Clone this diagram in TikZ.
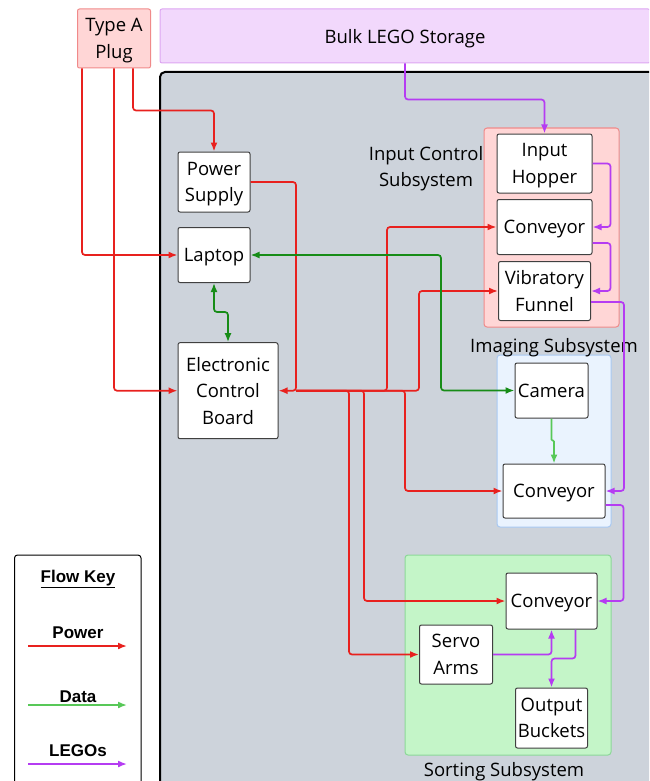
\documentclass[tikz,border=0pt]{standalone}
\usepackage{fontspec}
\setmainfont{Open Sans}
\newfontfamily\keyfont{Liberation Sans}
\usepackage{tikz}
\usetikzlibrary{positioning, arrows.meta, calc}

\definecolor{powred}{HTML}{E8211E}
\definecolor{datgreen}{HTML}{178C17}
\definecolor{datlight}{HTML}{58C858}
\definecolor{legopurple}{HTML}{B53CF2}
\definecolor{plugfill}{HTML}{FFD6D6}
\definecolor{plugline}{HTML}{F08A8A}
\definecolor{bulkfill}{HTML}{F2D8FC}
\definecolor{bulkline}{HTML}{DDA6F2}
\definecolor{casefill}{HTML}{CDD3DB}
\definecolor{imgfill}{HTML}{EAF3FE}
\definecolor{imgline}{HTML}{A8C8F2}
\definecolor{sortfill}{HTML}{C4F5C8}
\definecolor{sortline}{HTML}{8CD898}

\begin{document}
\begin{tikzpicture}[x=1pt, y=-1pt, line width=1.7pt, >={Latex[length=9pt,width=7pt]}]
				\tikzstyle{block}=[draw=black!75, line width=1pt, fill=white, rounded corners=2pt, align=center, inner sep=1pt, text depth=-6pt, font=\fontsize{18.5}{26.5}\selectfont]
				\tikzstyle{grouplabel}=[align=center, font=\fontsize{18.5}{26}\selectfont]
				\tikzstyle{keytext}=[font=\keyfont\bfseries\fontsize{17}{20}\selectfont]
				\tikzstyle{area}=[line width=1pt, rounded corners=3pt]
				\tikzstyle{power}=[->, draw=powred, rounded corners=3pt]
				\tikzstyle{data}=[<->, draw=datgreen, rounded corners=3pt]
				\tikzstyle{camdata}=[->, draw=datlight, rounded corners=1pt]
				\tikzstyle{lego}=[->, draw=legopurple, rounded corners=3pt]
				
				\clip (0,0) rectangle (649,781);
				
				% Housing and subsystem areas
				\draw[fill=casefill, line width=2pt, rounded corners=5pt] (160,72) rectangle (670,800);
				\draw[area, fill=plugfill, draw=plugline] (484,128) rectangle (619,327);
				\draw[area, fill=imgfill, draw=imgline] (497,355) rectangle (611,527);
				\draw[area, fill=sortfill, draw=sortline] (405,555) rectangle (611,755);
				
				% Sources
				\node[block, fill=plugfill, draw=plugline, minimum width=73, minimum height=59] (plug) at (114,38.5) {Type A\\Plug};
				\node[block, fill=bulkfill, draw=bulkline, minimum width=490, minimum height=54] (bulk) at (405,36) {Bulk LEGO Storage};
				
				% Control side
				\node[block, minimum width=72, minimum height=60] (psu) at (214,182) {Power\\Supply};
				\node[block, minimum width=72, minimum height=55] (laptop) at (214,255) {Laptop};
				\node[block, minimum width=100, minimum height=96] (ecb) at (228,390.7) {Electronic\\Control\\Board};
				
				% Input control
				\node[block, minimum width=95, minimum height=59] (hopper) at (544.5,163.5) {Input\\Hopper};
				\node[block, minimum width=95, minimum height=55] (inconv) at (544.5,227) {Conveyor};
				\node[block, minimum width=92, minimum height=59] (funnel) at (544.5,291) {Vibratory\\Funnel};
				
				% Imaging
				\node[block, minimum width=73, minimum height=55] (camera) at (551.5,390.5) {Camera};
				\node[block, minimum width=102, minimum height=54] (imgconv) at (554,491) {Conveyor};
				
				% Sorting
				\node[block, minimum width=91, minimum height=56] (sortconv) at (551.5,601) {Conveyor};
				\node[block, minimum width=73, minimum height=59] (servo) at (456,654.5) {Servo\\Arms};
				\node[block, minimum width=72, minimum height=60] (buckets) at (551.5,718) {Output\\Buckets};
				
				% Annotations
				\node[grouplabel] (inlabel) at (426,168.5) {Input Control\\Subsystem};
				\node[grouplabel] (imglabel) at (554,347.5) {Imaging Subsystem};
				\node[grouplabel] (sortlabel) at (504,771.5) {Sorting Subsystem};
				
				% Power
				\draw[power] ([xshift=-32pt]plug.south) |- (laptop.west);
				\draw[power] (plug.south) |- (ecb.west);
				\draw[power] ([xshift=19pt]plug.south) -- ++(0,42) -| (psu.north);
				\coordinate (bus) at (296,390.7);
				\draw[power] (psu.east) -| (bus) -- (ecb.east);
				\foreach \x/\dest in {387/inconv, 419/funnel, 405/imgconv, 364/sortconv, 349/servo}
				\draw[power] (bus) -- (\x,390.7) |- (\dest);
				
				% Data
				\draw[data] (laptop.south) -- ++(0,29) -| (ecb.north);
				\draw[data] (laptop.east) -| (441,390.5) -- (camera.west);
				\draw[camdata] (camera.south) -- ++(0,22) -| (imgconv.north);
				
				% LEGOs
				\draw[lego] (bulk.south) -- ++(0,36) -| (hopper.north);
				\draw[lego] (hopper.east) -- ++(18,0) |- (inconv.east);
				\draw[lego] ($(inconv.east)+(0,16)$) -- ++(18,0) |- (funnel.east);
				\draw[lego] ($(funnel.east)+(0,11)$) -- ++(33,0) |- (imgconv.east);
				\draw[lego] ($(imgconv.east)+(0,14)$) -- ++(18,0) |- (sortconv.east);
				\draw[lego] (servo.east) -| (sortconv.south);
				\draw[lego] ($(sortconv.south)+(24,0)$) -- ++(0,29) -| (buckets.north);
				
				% Flow key
				\draw[fill=white, draw=black, line width=1pt, rounded corners=3pt] (14.5,555) rectangle (141,800);
				\node[keytext] (keytitle) at (78,579) {\underline{Flow Key}};
				\foreach \name/\txt/\y/\ya/\col in {pow/Power/633/646/powred, dat/Data/697/705/datlight, leg/LEGOs/751/764/legopurple} {
					\node[keytext] (key-\name) at (78,\y) {\txt};
					\coordinate (key-\name-a) at (28,\ya);
					\coordinate (key-\name-b) at (127,\ya);
					\draw[->, draw=\col] (key-\name-a) -- (key-\name-b);
				}
			\end{tikzpicture}
\end{document}
